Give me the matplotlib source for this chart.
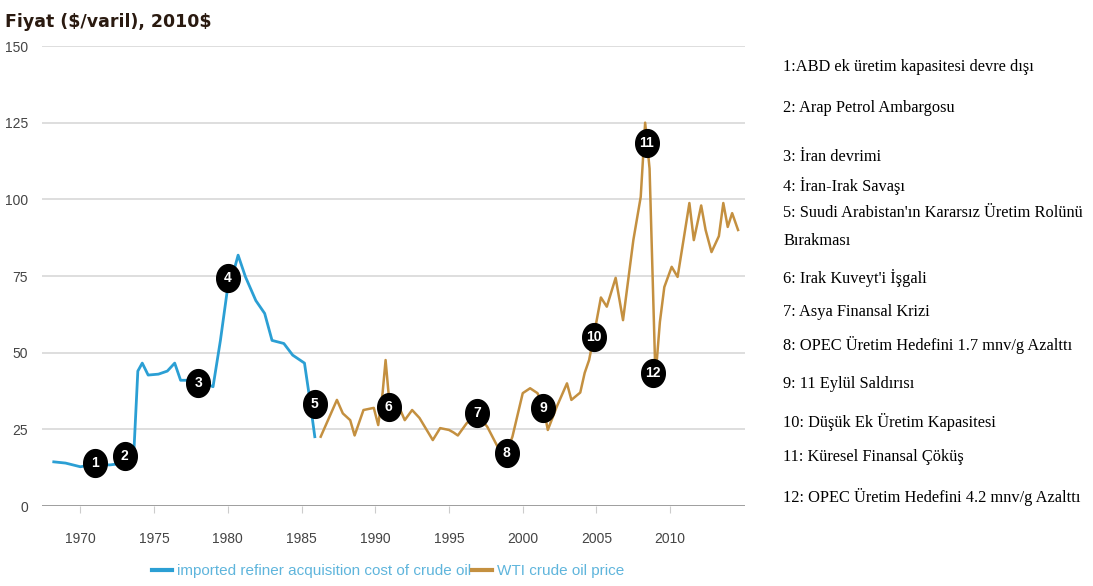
import numpy as np
import matplotlib.pyplot as plt
from matplotlib.lines import Line2D

# imported refiner acquisition cost (1968-1986)
rac_years = [1968.2, 1969.0, 1970.0, 1971.0, 1972.0, 1973.0, 1973.6, 1973.9, 1974.2, 1974.6,
             1975.3, 1975.9, 1976.4, 1976.8, 1977.5, 1978.2, 1979.0, 1979.5, 1980.0, 1980.3,
             1980.7, 1981.2, 1981.9, 1982.5, 1983.0, 1983.8, 1984.4, 1985.2, 1985.5, 1985.9]
rac_price = [14.4, 14.0, 12.8, 13.6, 13.4, 14.0, 14.5, 44.0, 46.6, 42.7,
             43.0, 44.0, 46.6, 41.0, 41.0, 40.5, 38.9, 54.0, 71.5, 74.7,
             81.8, 74.7, 67.0, 62.8, 54.0, 53.0, 49.2, 46.6, 36.8, 22.6]

# WTI crude oil price (1986-2014)
wti_years = [1986.3, 1987.4, 1987.8, 1988.3, 1988.6, 1989.2, 1989.9, 1990.2, 1990.5, 1990.7,
             1990.9, 1991.2, 1991.7, 1992.0, 1992.5, 1993.0, 1993.9, 1994.4, 1995.0, 1995.3,
             1995.6, 1996.2, 1996.9, 1997.6, 1998.3, 1998.9, 1999.3, 2000.0, 2000.5, 2001.0,
             2001.4, 2001.7, 2002.3, 2003.0, 2003.3, 2003.9, 2004.2, 2004.5, 2004.8, 2005.3,
             2005.7, 2006.3, 2006.8, 2007.5, 2008.0, 2008.3, 2008.6, 2009.0, 2009.3, 2009.6,
             2010.1, 2010.5, 2010.9, 2011.3, 2011.6, 2012.1, 2012.4, 2012.8, 2013.3, 2013.6,
             2013.9, 2014.2, 2014.6]
wti_price = [22.6, 34.6, 30.2, 28.0, 23.0, 31.3, 32.0, 26.4, 37.0, 47.6,
             36.8, 33.0, 31.3, 28.0, 31.3, 28.7, 21.5, 25.4, 24.8, 24.0,
             23.0, 27.0, 30.2, 25.8, 19.3, 17.3, 22.6, 36.8, 38.4, 36.8,
             32.3, 24.8, 32.3, 40.0, 34.6, 37.0, 43.4, 47.6, 55.0, 68.0,
             65.0, 74.4, 60.6, 86.7, 100.8, 125.0, 110.0, 42.0, 60.0, 71.4,
             78.0, 74.7, 86.7, 98.8, 86.7, 98.0, 90.0, 82.8, 88.0, 98.8,
             91.0, 95.5, 90.0]

# event markers
event_labels = ["1", "2", "3", "4", "5", "6", "7", "8", "9", "10", "11", "12"]
event_years = [1971.0, 1973.0, 1978.0, 1980.0, 1985.9, 1990.9, 1996.9, 1998.9, 2001.4, 2004.8, 2008.4, 2008.8]
event_price = [14.0, 16.3, 40.1, 74.3, 33.3, 32.3, 30.3, 17.3, 31.9, 55.1, 118.4, 43.4]

event_notes = [
    "1:ABD ek üretim kapasitesi devre dışı",
    "2: Arap Petrol Ambargosu",
    "3: İran devrimi",
    "4: İran-Irak Savaşı",
    "5: Suudi Arabistan'ın Kararsız Üretim Rolünü",
    "Bırakması",
    "6: Irak Kuveyt'i İşgali",
    "7: Asya Finansal Krizi",
    "8: OPEC Üretim Hedefini 1.7 mnv/g Azalttı",
    "9: 11 Eylül Saldırısı",
    "10: Düşük Ek Üretim Kapasitesi",
    "11: Küresel Finansal Çöküş",
    "12: OPEC Üretim Hedefini 4.2 mnv/g Azalttı",
]
note_y_px = [67, 108, 157, 186, 213, 241, 278, 312, 345, 384, 422, 457, 497]

y_ticks = [0, 25, 50, 75, 100, 125, 150]
x_ticks = [1970, 1975, 1980, 1985, 1990, 1995, 2000, 2005, 2010]

blue = "#2b9fd4"
brown = "#c49040"
narrow = ["Liberation Sans", "DejaVu Sans"]

fig = plt.figure(figsize=(10.93, 5.86), dpi=100)
ax = fig.add_axes([0.0384, 0.1365, 0.6436, 0.785])

ax.plot(rac_years, rac_price, color=blue, lw=2)
ax.plot(wti_years, wti_price, color=brown, lw=1.8)

# black oval markers with white numbers
t = np.linspace(0, 2 * np.pi, 60)
oval = np.column_stack([0.85 * np.cos(t), np.sin(t)])
ax.plot(event_years, event_price, ls="none", marker=oval, markersize=20,
        color="black", zorder=5)
for lab, x, y in zip(event_labels, event_years, event_price):
    ax.text(x, y, lab, color="white", fontsize=10, fontweight="bold",
            ha="center", va="center", zorder=6, family=narrow)

ax.set_xlim(1967.4, 2015.1)
ax.set_ylim(0, 150)
ax.set_yticks(y_ticks)
ax.set_xticks(x_ticks)
for s in ax.spines.values():
    s.set_visible(False)
ax.yaxis.grid(True, color="#d8d8d8", lw=1.2)
ax.set_axisbelow(True)
ax.axhline(0, color="#9a9a9a", lw=1.3)
ax.tick_params(axis="y", length=0, pad=10, labelsize=10, labelcolor="#444444")
ax.tick_params(axis="x", length=5, color="#cccccc", pad=14, labelsize=10, labelcolor="#444444")
for lab in ax.get_xticklabels() + ax.get_yticklabels():
    lab.set_family(narrow)

fig.text(0.005, 0.962, "Fiyat (\\$/varil), 2010\\$", fontsize=12.5, fontweight="bold",
         color="#2a1a10", va="center", family="DejaVu Sans")

handles = [Line2D([], [], color=blue, lw=3),
           Line2D([], [], color=brown, lw=3)]
leg = fig.legend(handles, ["imported refiner acquisition cost of crude oil", "WTI crude oil price"],
                 loc="center", bbox_to_anchor=(0.355, 0.025), ncol=2, frameon=False,
                 handlelength=1.3, handletextpad=0.3, columnspacing=0.1,
                 prop={"family": narrow, "size": 11})
for txt in leg.get_texts():
    txt.set_color("#5fb5dc")

for note, ypx in zip(event_notes, note_y_px):
    fig.text(783 / 1093, 1 - ypx / 586, note, fontsize=11.8, va="center", ha="left",
             family="Liberation Serif", color="black")

fig.savefig("out.png", dpi=100)
